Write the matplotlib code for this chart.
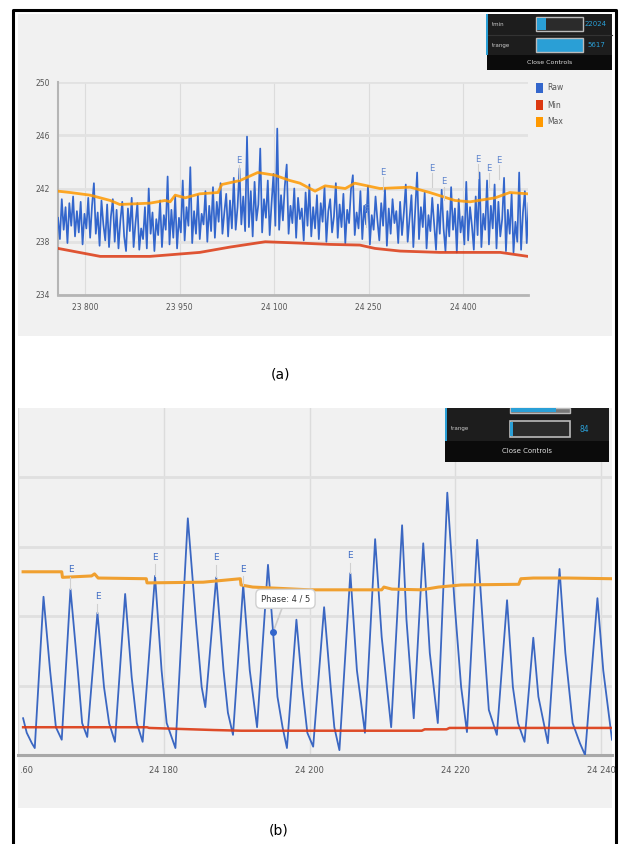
import numpy as np
import matplotlib.pyplot as plt
from matplotlib.patches import Rectangle
from matplotlib.lines import Line2D
from matplotlib.transforms import Bbox

plt.rcParams['font.family'] = ['Liberation Sans Narrow', 'DejaVu Sans']

# ---------------- panel (a) ----------------
raw_a_start = 23757
raw_a_step = 3
raw_a = [
    239.8, 238.2, 241.2, 238.9, 240.6, 237.9, 240.9, 239.2, 241.4, 238.4,
    240.3, 238.7, 241.0, 237.8, 240.1, 239.0, 241.3, 238.3, 240.7, 242.4,
    238.6, 240.2, 237.7, 241.1, 239.3, 238.1, 240.8, 237.6, 239.9, 241.2,
    238.0, 240.4, 237.5, 239.6, 241.0, 238.4, 237.3, 240.5, 238.8, 241.3,
    237.6, 239.4, 240.9, 237.4, 239.0, 238.2, 240.6, 237.5, 242.0, 238.6,
    240.2, 237.3, 239.7, 238.5, 241.1, 237.6, 240.0, 238.9, 242.9, 237.8,
    240.4, 238.3, 241.4, 237.5, 239.8, 238.7, 242.6, 238.1, 240.6, 239.2,
    243.6, 237.9, 240.3, 238.6, 241.5, 238.2, 240.1, 239.3, 241.8, 238.0,
    240.7, 238.8, 242.1, 238.3, 241.0, 239.5, 242.4, 238.6, 240.2, 241.6,
    238.4, 241.1, 239.0, 242.8, 238.9, 240.6, 243.5, 239.3, 241.4, 238.8,
    245.9, 239.1, 241.8, 238.4, 242.5, 239.6, 240.8, 245.0, 238.7, 241.2,
    239.8, 242.6, 238.5, 240.9, 243.1, 239.2, 246.5, 238.9, 241.5, 239.6,
    242.2, 243.8, 238.6, 240.7, 239.4, 242.0, 238.3, 241.3, 239.7, 240.5,
    238.1, 241.7, 239.2, 242.3, 238.4, 240.6, 239.0, 241.5, 238.2, 240.9,
    239.5, 242.1, 238.0, 240.3, 241.2, 238.7, 239.9, 242.4, 238.3, 240.8,
    239.1, 241.6, 237.9, 240.4, 239.4, 241.9, 243.0, 238.5, 240.2, 239.0,
    241.8, 238.2, 240.7, 239.3, 242.2, 237.8, 240.0, 238.9, 241.4, 239.6,
    238.1, 240.9, 239.2, 242.0, 237.7, 240.5, 238.6, 241.2, 239.4, 240.3,
    237.9, 241.0, 238.5, 240.2, 242.3, 238.0, 239.8, 241.5, 237.6, 240.4,
    243.2, 238.2, 240.6, 239.1, 241.7, 237.5, 240.0, 238.8, 241.3, 239.3,
    237.4, 240.8, 238.6, 241.9, 239.0, 237.3, 240.3, 238.4, 242.1, 238.9,
    240.5, 237.2, 241.2, 238.7, 239.9, 237.8, 242.5, 238.1, 240.6, 239.2,
    237.4, 241.4, 238.5, 243.2, 237.6, 240.1, 238.9, 242.6, 237.8, 240.7,
    239.0, 242.3, 237.5, 241.0, 238.4, 239.7, 242.8, 237.3, 240.4, 238.6,
    241.6, 237.2, 239.5, 238.0, 243.2, 237.4, 240.2, 241.8, 237.9, 240.9,
]
max_a_x = [23757, 23776, 23808, 23840, 23855, 23903, 23927, 23935, 23943, 23959,
           23982, 24011, 24017, 24046, 24074, 24101, 24125, 24141, 24165, 24181,
           24213, 24228, 24268, 24316, 24347, 24387, 24411, 24451, 24474, 24503]
max_a_y = [241.8, 241.7, 241.5, 241.1, 240.8, 240.9, 241.1, 241.0, 241.5, 241.3,
           241.6, 241.7, 242.3, 242.6, 243.2, 243.0, 242.6, 242.4, 241.8, 242.2,
           242.0, 242.4, 242.0, 242.1, 241.7, 241.1, 241.0, 241.3, 241.7, 241.6]
min_a_x = [23757, 23824, 23903, 23982, 24030, 24086, 24141, 24189, 24236, 24260,
           24300, 24363, 24459, 24503]
min_a_y = [237.5, 236.9, 236.9, 237.2, 237.6, 238.0, 237.9, 237.8, 237.75, 237.5,
           237.3, 237.2, 237.2, 236.9]
e_a_x = [24044, 24246, 24273, 24351, 24370, 24424, 24441, 24457]
e_a_y = [244.1, 240.5, 243.2, 243.5, 242.5, 244.2, 243.5, 244.1]
ticks_a_x = [23800, 23950, 24100, 24250, 24400]
ticks_a_lbl = ['23 800', '23 950', '24 100', '24 250', '24 400']
ticks_a_y = [234, 238, 242, 246, 250]
legend_names = ['Raw', 'Min', 'Max']

# ---------------- panel (b) ----------------
raw_b_x = [24160.7, 24161.2, 24161.9, 24162.3, 24163.5, 24164.4, 24165.2, 24166.0,
           24167.2, 24168.2, 24168.8, 24169.5, 24170.9, 24171.8, 24172.5, 24173.3,
           24174.7, 24175.6, 24176.3, 24177.1, 24178.8, 24179.7, 24180.4, 24181.6,
           24183.3, 24184.4, 24185.2, 24185.7, 24187.2, 24188.2, 24188.8, 24189.5,
           24190.9, 24191.8, 24192.8, 24194.3, 24195.0, 24195.6, 24196.3, 24196.9,
           24198.2, 24199.0, 24199.7, 24200.5, 24202.0, 24202.9, 24203.4, 24204.1,
           24205.6, 24206.5, 24207.6, 24209.0, 24209.9, 24211.2, 24212.7, 24213.3,
           24214.3, 24215.6, 24216.5, 24217.6, 24218.9, 24219.9, 24220.8, 24221.6,
           24223.0, 24223.9, 24224.6, 24225.7, 24227.1, 24227.9, 24228.6, 24229.5,
           24230.7, 24231.4, 24232.7, 24234.3, 24235.1, 24236.1, 24237.1, 24237.8,
           24239.5, 24240.3, 24241.5]
raw_b_y = [0.53, 0.32, 0.17, 0.10, 2.28, 1.22, 0.40, 0.22,
           2.39, 1.22, 0.46, 0.26, 2.05, 0.98, 0.46, 0.19,
           2.32, 1.12, 0.46, 0.19, 2.58, 1.22, 0.46, 0.10,
           3.41, 1.95, 0.98, 0.69, 2.56, 1.22, 0.61, 0.29,
           2.45, 1.22, 0.40, 2.74, 1.77, 0.84, 0.40, 0.10,
           1.95, 0.98, 0.32, 0.12, 2.13, 0.98, 0.40, 0.07,
           2.62, 1.22, 0.32, 3.11, 1.70, 0.40, 3.31, 1.95,
           0.53, 3.05, 1.47, 0.46, 3.78, 2.19, 0.98, 0.33,
           3.10, 1.70, 0.65, 0.29, 2.23, 0.98, 0.46, 0.19,
           1.69, 0.84, 0.17, 2.68, 1.47, 0.46, 0.17, 0.00,
           2.26, 1.22, 0.22]
max_b_x = [24160.7, 24166.0, 24166.1, 24170.1, 24170.5, 24171.0, 24177.6, 24177.7,
           24185.4, 24190.5, 24190.6, 24192.2, 24200.0, 24209.9, 24210.2, 24211.3,
           24215.4, 24217.7, 24220.8, 24228.7, 24229.0, 24230.7, 24235.4, 24241.5]
max_b_y = [2.64, 2.64, 2.56, 2.58, 2.61, 2.55, 2.54, 2.48,
           2.49, 2.54, 2.45, 2.42, 2.38, 2.38, 2.42, 2.39,
           2.38, 2.42, 2.45, 2.46, 2.54, 2.55, 2.55, 2.54]
min_b_x = [24160.7, 24177.7, 24178.0, 24186.8, 24190.6, 24215.4, 24215.8, 24218.8,
           24219.2, 24241.5]
min_b_y = [0.40, 0.40, 0.39, 0.36, 0.35, 0.35, 0.37, 0.37, 0.39, 0.39]
e_b_x = [24167.2, 24170.9, 24178.8, 24187.2, 24190.9, 24205.6]
e_b_peak = [2.39, 2.05, 2.58, 2.56, 2.45, 2.62]
e_b_y = [2.67, 2.28, 2.85, 2.84, 2.68, 2.87]
tip_x, tip_y = 24195.0, 1.77
ticks_b_x = [24160, 24180, 24200, 24220, 24240]
ticks_b_lbl = ['24 160', '24 180', '24 200', '24 220', '24 240']
ticks_b_y = [1, 2, 3, 4]

BLUE = '#3366cc'
RED = '#dc3912'
ORANGE = '#ff9900'
SLIDER = '#2a9fd6'

W, H = 619, 844
fig = plt.figure(figsize=(W / 100, H / 100), dpi=100)
fig.patch.set_facecolor('white')


def box(x0, y0, x1, y1, z, **kw):
    r = Rectangle((x0 / W, 1 - y1 / H), (x1 - x0) / W, (y1 - y0) / H,
                  transform=fig.transFigure, zorder=z, **kw)
    fig.patches.append(r)
    return r


def ftext(x, y, s, **kw):
    return fig.text(x / W, 1 - y / H, s, **kw)


def fline(xs, ys, **kw):
    fig.add_artist(Line2D([x / W for x in xs], [1 - y / H for y in ys],
                          transform=fig.transFigure, **kw))


# grey screenshot backgrounds
box(18, 14, 612, 336, -5, fc='#f1f1f1', ec='none')
box(18, 408, 612, 808, -5, fc='#f1f1f1', ec='none')

# outer black frame
fline([13, 13, 616, 616], [844, 10, 10, 844], color='black', lw=2.2, zorder=10)


def style_axes(ax):
    ax.set_facecolor('none')
    for s in ['top', 'right']:
        ax.spines[s].set_visible(False)
    ax.tick_params(length=0, labelsize=5.5, labelcolor='#555555')
    ax.set_axisbelow(True)


# ---------------- panel (a) ----------------
ax1 = fig.add_axes([58 / W, 1 - 295 / H, 470 / W, 213 / H])
style_axes(ax1)
raw_a_x = raw_a_start + raw_a_step * np.arange(len(raw_a))
ax1.plot(raw_a_x, raw_a, color=BLUE, lw=1.25, zorder=3)
ax1.plot(max_a_x, max_a_y, color=ORANGE, lw=2.0, alpha=0.85, zorder=4)
ax1.plot(min_a_x, min_a_y, color=RED, lw=2.0, alpha=0.85, zorder=4)
for x, y in zip(e_a_x, e_a_y):
    ax1.plot([x, x], [y - 0.35, y - 1.4], color='#cfcfcf', lw=0.8, zorder=5)
    ax1.text(x, y, 'E', color='#5b82cc', fontsize=6, ha='center', va='center', zorder=6)
ax1.set_xlim(raw_a_start, 24503)
ax1.set_ylim(234, 250)
ax1.set_xticks(ticks_a_x)
ax1.set_xticklabels(ticks_a_lbl)
ax1.set_yticks(ticks_a_y)
ax1.set_yticklabels([str(t) for t in ticks_a_y])
ax1.tick_params(axis='x', pad=6)
ax1.tick_params(axis='y', pad=6)
ax1.xaxis.grid(True, color='#dcdcdc', lw=0.8)
ax1.yaxis.grid(True, color='#e2e2e2', lw=2.0)
ax1.spines['left'].set_color('#b5b5b5')
ax1.spines['left'].set_linewidth(1.5)
ax1.spines['bottom'].set_color('#b5b5b5')
ax1.spines['bottom'].set_linewidth(2.0)

# legend
for i, (name, c) in enumerate(zip(legend_names, [BLUE, RED, ORANGE])):
    y0 = 83 + 17 * i
    box(536, y0, 543, y0 + 10, 6, fc=c, ec='none')
    ftext(547, y0 + 5, name, fontsize=5.5, color='#555555', va='center')

# control box (a)
box(487, 14, 612, 70, 6, fc='#0b0b0b', ec='none')
box(487, 14, 612, 55, 6, fc='#1d1d1d', ec='none')
box(486, 14, 488, 55, 7, fc=SLIDER, ec='none')
fline([488, 612], [35, 35], color='#333333', lw=0.8, zorder=7)
ftext(492, 24, 'tmin', fontsize=4, color='#cccccc', va='center', zorder=8)
box(536, 17, 583, 31, 7, fc='#2b2b2b', ec='#bbbbbb', lw=1)
box(537, 18, 546, 30, 8, fc=SLIDER, ec='none')
ftext(596, 24, '22024', fontsize=5, color=SLIDER, ha='center', va='center', zorder=8)
ftext(492, 45, 'trange', fontsize=4, color='#cccccc', va='center', zorder=8)
box(536, 38, 583, 52, 7, fc=SLIDER, ec='#bbbbbb', lw=1)
ftext(596, 45, '5617', fontsize=5, color=SLIDER, ha='center', va='center', zorder=8)
ftext(550, 62, 'Close Controls', fontsize=4.5, color='#dddddd', ha='center',
      va='center', zorder=8)

ftext(280, 375, '(a)', fontsize=10, ha='center', va='center')

# ---------------- panel (b) ----------------
ax2 = fig.add_axes([18 / W, 1 - 755 / H, 594 / W, 347 / H])
style_axes(ax2)
ax2.spines['left'].set_visible(False)
ax2.plot(raw_b_x, raw_b_y, color='#3b67c2', lw=1.3, zorder=3)
ax2.plot(max_b_x, max_b_y, color='#f0a030', lw=2.2, zorder=4)
ax2.plot(min_b_x, min_b_y, color=RED, lw=1.8, alpha=0.9, zorder=4)
for x, p, y in zip(e_b_x, e_b_peak, e_b_y):
    ax2.plot([x, x], [p, y - 0.1], color='#cfcfcf', lw=0.8, zorder=5)
    ax2.text(x, y, 'E', color='#3f6cc4', fontsize=6.5, ha='center', va='center', zorder=6)
ax2.plot(tip_x, tip_y, 'o', ms=4, color=BLUE, zorder=7)
ax2.annotate('Phase: 4 / 5', xy=(tip_x, tip_y), xytext=(24196.7, 2.25),
             ha='center', va='center', fontsize=6, color='#333333', zorder=8,
             bbox=dict(boxstyle='round,pad=0.6', fc='white', ec='#d0d0d0', lw=1),
             arrowprops=dict(arrowstyle='-', color='#cccccc', lw=1.2,
                             shrinkA=0, shrinkB=3))
ax2.set_xlim(24160.7, 24241.5)
ax2.set_ylim(0, 5)
ax2.set_xticks(ticks_b_x)
ax2.set_xticklabels(ticks_b_lbl)
ax2.set_yticks(ticks_b_y)
ax2.set_yticklabels([])
ax2.tick_params(axis='x', pad=8, labelsize=6)
ax2.xaxis.grid(True, color='#dcdcdc', lw=1.0)
ax2.yaxis.grid(True, color='#e0e0e0', lw=2.0)
ax2.spines['bottom'].set_color('#a8a8a8')
ax2.spines['bottom'].set_linewidth(2.2)
# first label is cut by the screenshot edge
ax2.get_xticklabels()[0].set_clip_box(Bbox.from_extents(21, 0, 612, H))

# control box (b)
box(445, 408, 609, 462, 6, fc='#0b0b0b', ec='none')
box(445, 408, 609, 441, 6, fc='#1d1d1d', ec='none')
box(445, 408, 447, 441, 7, fc=SLIDER, ec='none')
box(510, 408, 570, 413, 7, fc='#777777', ec='#bbbbbb', lw=1)
box(511, 408, 556, 412, 8, fc=SLIDER, ec='none')
ftext(451, 429, 'trange', fontsize=4, color='#cccccc', va='center', zorder=8)
box(510, 421, 570, 437, 7, fc='#2b2b2b', ec='#bbbbbb', lw=1.2)
box(510, 422, 513, 436, 8, fc=SLIDER, ec='none')
ftext(580, 430, '84', fontsize=5.5, color=SLIDER, va='center', zorder=8)
ftext(527, 451, 'Close Controls', fontsize=5, color='#dddddd', ha='center',
      va='center', zorder=8)

ftext(279, 830, '(b)', fontsize=10, ha='center', va='center')

fig.savefig('out.png', dpi=100)
